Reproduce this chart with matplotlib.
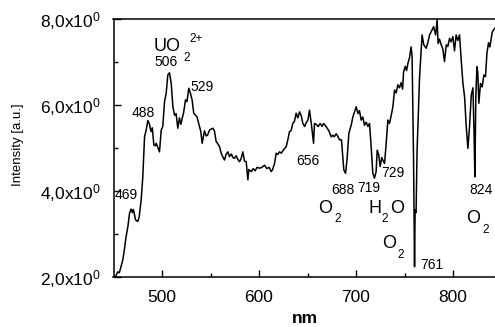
import matplotlib
matplotlib.use("Agg")
import matplotlib.pyplot as plt

# Spectrum (wavelength in nm, intensity in a.u.)
wavelength = [
    451.5, 453, 454.4, 456, 457.5, 459.6, 461, 463, 465, 466.5, 468.2, 469.5, 470.5,
    472.7, 475, 476.5, 478.5, 480.2, 482, 483.7, 485.4, 487, 488, 488.8, 490, 491.6,
    493, 494, 495.5, 497.4, 499.2, 500.8, 502.6, 504.3, 506, 507.7, 509.5, 511.2, 513,
    514.5, 516.3, 518, 519.5, 520.8, 522.2, 524.2, 525.8, 527.6, 529, 531, 532.7, 534.5,
    536, 538.6, 540, 541.4, 542.5, 543.8, 545.5, 547, 549, 552.4, 554, 555.8, 557.5,
    559.3, 561, 562.5, 564.4, 566, 567.8, 569.5, 571.5, 573, 574.7, 576.5, 578, 579.9,
    581.5, 583.3, 585, 586.8, 588.5, 589.5, 591.9, 594, 596, 598, 600.5, 603, 605.7,
    608, 610.5, 612.6, 614, 616, 617.7, 619.5, 621.1, 623, 625, 628, 629.7, 631.4, 633,
    634.8, 636.5, 638.3, 640, 641.8, 643.5, 645.2, 647, 648.5, 650.4, 652, 654, 656.2,
    657.2, 659, 661, 663, 665, 666.5, 668.5, 670.5, 672, 674.4, 676, 677.5, 679.5, 681,
    683, 685, 686.4, 687.4, 689.2, 690.8, 692.6, 695, 696.7, 698.5, 700.2, 702, 703.5,
    705.3, 707, 708.7, 710.5, 712.2, 713.9, 715.6, 717.3, 719, 720.7, 721.8, 723.3,
    724.9, 726.5, 727.6, 729.4, 731.1, 732.8, 734.5, 736.2, 738, 739.7, 741.4, 743.1,
    744.8, 746.5, 748, 749, 750.8, 752.1, 753.4, 755.1, 756.8, 757.8, 759.3, 760.3,
    760.9, 761.9, 762.9, 765.5, 768.1, 769.8, 772.3, 774, 775.8, 778.2, 780, 782, 783.6,
    784.6, 786, 787.8, 789.5, 791.2, 793, 794.6, 796.4, 798, 799.8, 801.5, 803.2, 804.9,
    806.7, 808.4, 810.2, 811.9, 813.6, 815.3, 817, 818.8, 820.5, 821.6, 822.5, 823.5,
    824.6, 825.5, 826.6, 828.3, 830, 831.8, 833.5, 834.9, 836.6, 838, 840.4, 842.8, 845,
]
intensity = [
    2.00, 2.05, 2.12, 2.10, 2.22, 2.40, 2.60, 2.94, 3.20, 3.48, 3.58, 3.50, 3.57,
    3.33, 3.29, 3.40, 3.79, 4.33, 5.26, 5.42, 5.64, 5.56, 5.45, 5.38, 5.47, 5.07,
    5.05, 5.11, 5.02, 4.91, 5.42, 5.50, 6.08, 6.27, 6.70, 6.75, 6.50, 5.96, 5.76,
    5.80, 5.46, 5.70, 5.55, 5.69, 5.81, 6.12, 6.08, 6.39, 6.30, 6.12, 5.81, 5.76,
    5.73, 5.50, 5.38, 5.11, 5.25, 5.40, 5.28, 5.30, 5.42, 5.46, 5.40, 5.15, 5.10,
    5.03, 4.88, 4.80, 4.72, 4.85, 4.91, 4.80, 4.86, 4.78, 4.76, 4.82, 4.74, 4.68,
    4.75, 4.91, 4.70, 4.68, 4.26, 4.50, 4.45, 4.52, 4.47, 4.55, 4.53, 4.55, 4.60,
    4.52, 4.55, 4.45, 4.50, 4.64, 4.88, 4.85, 4.91, 4.88, 4.95, 5.03, 5.19, 5.38, 5.40,
    5.57, 5.62, 5.81, 5.70, 5.84, 5.75, 5.57, 5.50, 5.58, 5.65, 5.88, 5.55, 5.11,
    5.57, 5.55, 5.50, 5.57, 5.50, 5.57, 5.52, 5.45, 5.40, 5.26, 5.30, 5.26, 5.33, 5.28,
    5.19, 5.19, 4.80, 4.49, 4.41, 4.75, 5.34, 5.53, 5.72, 5.84, 5.96, 5.80, 5.87,
    5.65, 5.72, 5.53, 5.60, 5.50, 5.57, 5.03, 4.41, 4.30, 4.45, 4.95, 4.85,
    4.57, 4.78, 4.72, 4.64, 5.11, 5.65, 5.57, 5.75, 5.96, 6.35, 6.28, 6.47,
    6.40, 6.52, 6.37, 6.77, 6.90, 6.80, 6.96, 7.10, 7.35, 7.12, 4.72, 2.24,
    3.56, 3.50, 4.92, 6.66, 7.63, 7.40, 7.32, 7.45, 7.63, 7.74, 7.82, 7.63, 7.98,
    7.43, 7.53, 7.40, 7.30, 7.01, 7.40, 7.36, 7.55, 7.47, 7.59, 7.26, 7.63, 7.50,
    7.63, 7.05, 6.50, 6.19, 5.50, 4.99, 5.50, 6.23, 6.40, 5.40, 4.33, 6.20,
    6.89, 6.75, 6.04, 6.50, 6.42, 6.70, 6.66, 7.20, 7.45, 7.35, 7.70, 7.78, 7.85,
]

# Peak / band labels: text, x, y
peak_labels = ["469", "488", "506", "529", "656", "688", "719", "729", "761", "824"]
peak_x = [463.4, 480.7, 504.4, 540.9, 650.8, 686.9, 712.7, 738.0, 778.5, 828.9]
peak_y = [3.91, 5.81, 7.00, 6.42, 4.70, 4.02, 4.06, 4.42, 2.28, 4.02]

x_ticks = [500, 600, 700, 800]
x_ticklabels = ["500", "600", "700", "800"]
y_ticks = [2, 4, 6, 8]
y_ticklabels = ["2,0x10$^{0}$", "4,0x10$^{0}$", "6,0x10$^{0}$", "8,0x10$^{0}$"]

plt.rcParams["font.family"] = ["Liberation Sans", "DejaVu Sans"]
plt.rcParams["mathtext.fontset"] = "custom"
plt.rcParams["mathtext.rm"] = "Liberation Sans"
plt.rcParams["mathtext.it"] = "Liberation Sans"
plt.rcParams["mathtext.default"] = "regular"

fig = plt.figure(figsize=(4.95, 3.27), dpi=100)
# axes runs past the right edge of the figure, as in the reference
ax = fig.add_axes([113.5 / 495, 50 / 327, 383.2 / 495, 258 / 327])

ax.plot(wavelength, intensity, color="black", lw=1.1)
ax.set_xlim(450, 845)
ax.set_ylim(2, 8)

ax.set_xticks(x_ticks)
ax.set_xticklabels(x_ticklabels)
ax.set_xticks([550, 650, 750], minor=True)
ax.set_yticks(y_ticks)
ax.set_yticklabels(y_ticklabels)
ax.set_yticks([3, 5, 7], minor=True)
ax.tick_params(which="both", direction="in", width=1.0, top=False, right=False)
ax.tick_params(which="major", length=5, labelsize=12.5, pad=9)
ax.tick_params(which="minor", length=3)
for s in ax.spines.values():
    s.set_linewidth(1.1)
ax.spines["right"].set_visible(False)

ax.set_xlabel("nm", fontsize=12.5, fontweight="bold", labelpad=5)
fig.text(18 / 495, 1 - 145 / 327, "Intensity [a.u.]", rotation=90,
         ha="center", va="center", fontsize=9.5)

for t, x, y in zip(peak_labels, peak_x, peak_y):
    ax.text(x, y, t, ha="center", va="center", fontsize=10)

# species labels (big letter, subscript, superscript)
ax.text(505.7, 7.36, "UO", ha="center", va="center", fontsize=13)
ax.text(525.8, 7.10, "2", ha="center", va="center", fontsize=8.5)
ax.text(535.0, 7.53, "2+", ha="center", va="center", fontsize=8.5)

ax.text(668.6, 3.59, "O", ha="center", va="center", fontsize=13)
ax.text(680.9, 3.34, "2", ha="center", va="center", fontsize=8.5)

ax.text(719.1, 3.59, "H", ha="center", va="center", fontsize=13)
ax.text(729.9, 3.34, "2", ha="center", va="center", fontsize=8.5)
ax.text(742.3, 3.59, "O", ha="center", va="center", fontsize=13)

ax.text(734.2, 2.78, "O", ha="center", va="center", fontsize=13)
ax.text(745.9, 2.52, "2", ha="center", va="center", fontsize=8.5)

ax.text(820.9, 3.36, "O", ha="center", va="center", fontsize=13)
ax.text(833.5, 3.10, "2", ha="center", va="center", fontsize=8.5)

fig.savefig("out.png", dpi=100)
